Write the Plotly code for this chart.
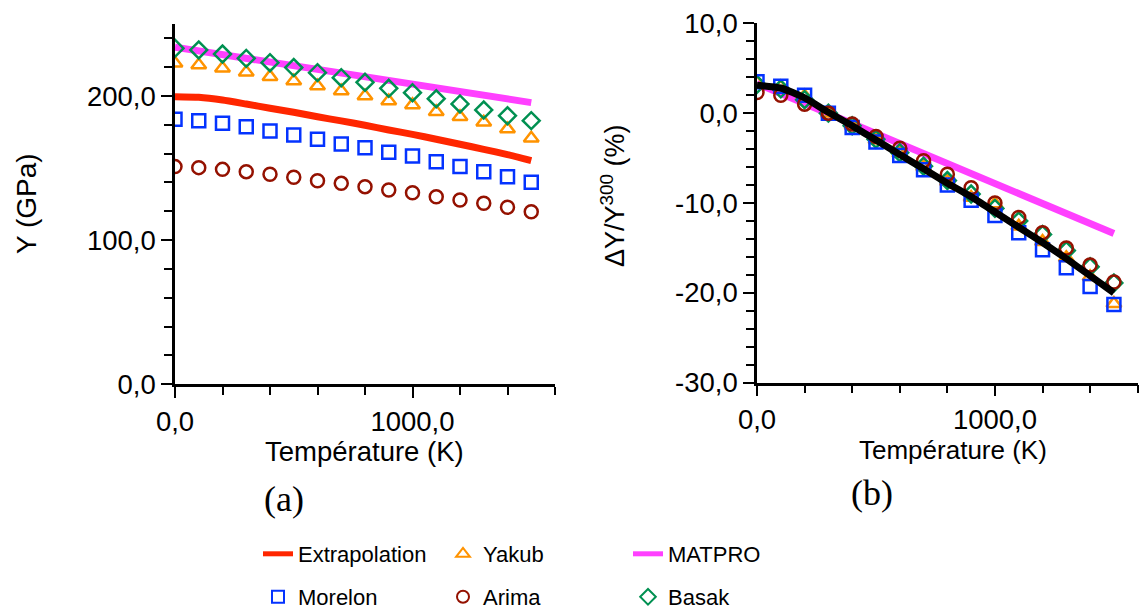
import plotly.graph_objects as go

# ---------------- data ----------------
T = [0, 100, 200, 300, 400, 500, 600, 700, 800, 900, 1000, 1100, 1200, 1300, 1400, 1500]

# (a) Young modulus Y (GPa)
extrap_Y = [199.5, 199.1, 197.2, 194.4, 191.5, 188.7, 185.6, 182.7, 179.7, 176.4, 173.4, 170.0, 166.5, 163.0, 159.3, 155.1]
yakub_Y = [222.7, 221.5, 219.2, 216.4, 213.4, 210.4, 206.9, 203.5, 200.0, 196.5, 193.8, 189.1, 185.6, 181.7, 177.1, 170.6]
morelon_Y = [183.8, 182.9, 181.1, 178.7, 175.7, 172.9, 170.0, 166.7, 164.1, 160.9, 158.4, 154.4, 151.0, 147.5, 144.0, 140.1]
arima_Y = [151.0, 150.3, 149.1, 147.5, 145.7, 143.6, 141.2, 139.4, 137.1, 134.8, 132.9, 130.1, 127.9, 125.6, 122.8, 119.7]
basak_Y = [233.1, 231.9, 229.1, 226.1, 223.1, 219.7, 216.2, 212.7, 209.5, 205.3, 202.3, 198.1, 194.5, 190.3, 186.3, 182.9]
matpro_T = [0, 500, 1500]
matpro_Y = [233.8, 220.8, 195.4]

# (b) relative change dY/Y300 (%)
extrap_d = [3.1, 2.8, 1.7, 0.1, -1.4, -3.0, -4.6, -6.2, -7.8, -9.3, -11.0, -12.7, -14.4, -16.2, -18.1, -20.0]
yakub_d = [3.4, 2.9, 1.9, 0.0, -1.4, -3.0, -4.5, -6.0, -7.6, -9.4, -10.1, -12.6, -14.3, -16.1, -18.2, -21.2]
morelon_d = [3.5, 3.0, 2.0, 0.0, -1.6, -3.2, -4.7, -6.3, -8.0, -9.7, -11.4, -13.3, -15.2, -17.2, -19.3, -21.3]
arima_d = [2.3, 2.0, 1.0, 0.0, -1.2, -2.6, -3.9, -5.3, -6.8, -8.3, -10.0, -11.6, -13.3, -15.0, -16.9, -18.8]
basak_d = [3.2, 2.7, 1.5, 0.0, -1.4, -2.9, -4.4, -5.9, -7.5, -9.0, -10.6, -12.0, -13.5, -15.3, -17.1, -18.9]
matpro_dT = [0, 300, 1500]
matpro_d = [3.3, 0.0, -13.4]

# ticks
x_major = [0, 1000]
x_major_text = ["0,0", "1000,0"]
x_minor = [0, 200, 400, 600, 800, 1000, 1200, 1400, 1600]
ya_major = [0, 100, 200]
ya_major_text = ["0,0", "100,0", "200,0"]
ya_minor = list(range(0, 241, 20))
yb_major = [-30, -20, -10, 0, 10]
yb_major_text = ["-30,0", "-20,0", "-10,0", "0,0", "10,0"]
yb_minor = list(range(-30, 11, 2))

# ---------------- style ----------------
RED = "#FF2600"
MAG = "#FF40FF"
ORA = "#FF9300"
BLU = "#0433FF"
CAY = "#941100"
GRN = "#009051"
FONT = "Liberation Sans, Arial, sans-serif"
W, H = 1145, 614

fig = go.Figure()

def line(x, y, color, name, xa, ya, legend=None, show=False, width=7, shape="linear"):
    fig.add_trace(go.Scatter(x=x, y=y, mode="lines", name=name,
                             line=dict(color=color, width=width, shape=shape, smoothing=0.5),
                             xaxis=xa, yaxis=ya, showlegend=show,
                             legend=legend))

def mark(x, y, color, symbol, name, xa, ya, legend=None, show=False):
    fig.add_trace(go.Scatter(x=x, y=y, mode="markers", name=name,
                             marker=dict(symbol=symbol, size=13, color=color,
                                         line=dict(color=color, width=2.5)),
                             xaxis=xa, yaxis=ya, showlegend=show,
                             legend=legend))

# panel (a) - legend entries
line(T, extrap_Y, RED, "Extrapolation", "x", "y", "legend", True, shape="spline")
mark(T, yakub_Y, ORA, "triangle-up-open", "Yakub", "x", "y", "legend", True)
line(matpro_T, matpro_Y, MAG, "MATPRO", "x", "y", "legend", True)
mark(T, morelon_Y, BLU, "square-open", "Morelon", "x", "y", "legend2", True)
mark(T, arima_Y, CAY, "circle-open", "Arima", "x", "y", "legend2", True)
mark(T, basak_Y, GRN, "diamond-open", "Basak", "x", "y", "legend2", True)

# panel (b)
line(matpro_dT, matpro_d, MAG, "MATPRO", "x2", "y2")
mark(T, yakub_d, ORA, "triangle-up-open", "Yakub", "x2", "y2")
mark(T, basak_d, GRN, "diamond-open", "Basak", "x2", "y2")
mark(T, morelon_d, BLU, "square-open", "Morelon", "x2", "y2")
mark(T, arima_d, CAY, "circle-open", "Arima", "x2", "y2")
line(T, extrap_d, "black", "Extrapolation", "x2", "y2", shape="spline")

# ---------------- axes ----------------
xa_dom = [175 / W, 555 / W]
xb_dom = [757 / W, 1137.7 / W]
ya_dom = [1 - 384.3 / H, 1 - 23.9 / H]
yb_dom = [1 - 382.7 / H, 1 - 23.3 / H]

tickfont = dict(family=FONT, size=27.5, color="black")

def main_axis(dom, rng, vals, text, minor_vals, anchor):
    return dict(domain=dom, range=rng, anchor=anchor, showgrid=False, zeroline=False,
                showline=True, linecolor="black", linewidth=2.5,
                tickmode="array", tickvals=vals, ticktext=text,
                ticks="outside", ticklen=11, tickwidth=2, tickcolor="black",
                tickfont=tickfont, automargin=False,
                minor=dict(tickmode="array", tickvals=minor_vals, ticks="outside",
                           ticklen=8, tickwidth=2, tickcolor="black", showgrid=False))

def inner_axis(dom, rng, vals, over, anchor, side):
    return dict(domain=dom, range=rng, overlaying=over, anchor=anchor, side=side,
                showgrid=False, zeroline=False, showline=False, automargin=False,
                tickmode="array", tickvals=vals, showticklabels=False,
                ticks="inside", ticklen=8, tickwidth=2, tickcolor="black")

legend_common = dict(orientation="h", xanchor="left", yanchor="middle",
                     entrywidth=140, entrywidthmode="pixels", bgcolor="rgba(0,0,0,0)",
                     font=dict(family=FONT, size=22, color="black"), itemsizing="constant")

fig.update_layout(
    width=W, height=H,
    margin=dict(l=0, r=0, t=0, b=0, pad=0, autoexpand=False),
    paper_bgcolor="white", plot_bgcolor="rgba(0,0,0,0)",
    font=dict(family=FONT, color="black"),
    xaxis=main_axis(xa_dom, [0, 1600], x_major, x_major_text, x_minor, "y"),
    yaxis=main_axis(ya_dom, [0, 250], ya_major, ya_major_text, ya_minor, "x"),
    xaxis2=main_axis(xb_dom, [0, 1600], x_major, x_major_text, x_minor, "y2"),
    yaxis2=main_axis(yb_dom, [-30, 10], yb_major, yb_major_text, yb_minor, "x2"),
    xaxis3=inner_axis(xa_dom, [0, 1600], x_minor, "x", "y", "bottom"),
    yaxis3=inner_axis(ya_dom, [0, 250], ya_minor, "y", "x", "left"),
    xaxis4=inner_axis(xb_dom, [0, 1600], x_minor, "x2", "y2", "bottom"),
    yaxis4=inner_axis(yb_dom, [-30, 10], yb_minor, "y2", "x2", "left"),
    legend=dict(x=258 / W, y=1 - 554 / H, **legend_common),
    legend2=dict(x=258 / W, y=1 - 597 / H, **legend_common),
    showlegend=True,
)

annos = [
    dict(text="Température (K)", x=364 / W, y=1 - 451 / H, font=dict(size=27.5)),
    dict(text="Température (K)", x=953 / W, y=1 - 450 / H, font=dict(size=26)),
    dict(text="Y (GPa)", x=27 / W, y=1 - 204 / H, textangle=-90, font=dict(size=28)),
    dict(text="ΔY/Y<sup>300</sup> (%)", x=613 / W, y=1 - 196 / H, textangle=-90, font=dict(size=27)),
    dict(text="(a)", x=284 / W, y=1 - 499 / H,
         font=dict(size=36, family="Liberation Serif, DejaVu Serif, serif")),
    dict(text="(b)", x=872 / W, y=1 - 493 / H,
         font=dict(size=36, family="Liberation Serif, DejaVu Serif, serif")),
]
for a in annos:
    f = dict(family=FONT, color="black")
    f.update(a.pop("font"))
    fig.add_annotation(xref="paper", yref="paper", xanchor="center", yanchor="middle",
                       showarrow=False, font=f, **a)

fig.write_html("out.html", config={"displayModeBar": False},
               post_script="document.body.style.margin='0px';")
